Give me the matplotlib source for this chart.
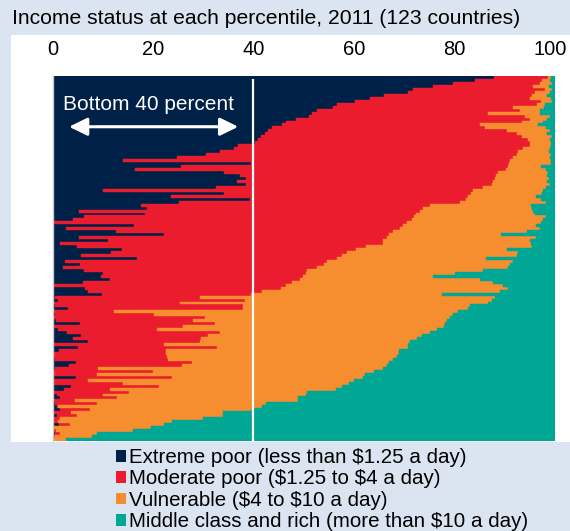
import numpy as np
import matplotlib
matplotlib.use("Agg")
import matplotlib.pyplot as plt
from matplotlib.patches import Patch, Rectangle
from matplotlib.transforms import ScaledTranslation

plt.rcParams['font.family'] = ['Liberation Sans', 'DejaVu Sans']

# percentile where each income class ends, one row per country (123 countries),
# rows ordered as in the chart (top to bottom)
extreme_upto = [
    87.8, 84.1, 79.7, 75.6, 71.8, 70.8, 66.0, 63.1, 60.2, 56.5,
    55.8, 52.5, 51.5, 50.9, 48.5, 46.5, 45.6, 43.6, 42.9, 42.2,
    41.5, 40.9, 40.2, 36.9, 36.0, 33.3, 30.4, 24.8, 14.0, 39.5,
    25.5, 16.3, 34.1, 37.3, 38.5, 36.6, 38.4, 32.4, 10.0, 34.1,
    23.6, 39.3, 25.0, 17.5, 18.7, 5.2, 18.3, 6.2, 4.0, 0.1,
    16.2, 2.6, 12.5, 22.1, 5.2, 10.9, 1.4, 4.7, 13.8, 11.5,
    5.6, 16.7, 2.4, 5.4, 1.9, 6.2, 10.0, 9.6, 11.4, 6.0,
    0.0, 6.4, 6.9, 9.7, 0.4, 1.0, 0.2, 0.4, 2.9, 0.2,
    0.3, 0.0, 0.5, 5.4, 0.0, 1.0, 2.7, 5.6, 4.0, 7.0,
    0.2, 5.0, 1.2, 0.2, 0.2, 0.3, 4.5, 3.1, 0.3, 0.2,
    0.1, 4.6, 0.2, 0.1, 3.6, 2.1, 0.0, 0.7, 1.4, 0.0,
    0.4, 0.7, 1.3, 0.0, 0.8, 0.0, 0.0, 1.1, 0.0, 0.2,
    0.4, 0.0, 0.0]

moderate_upto = [
    98.7, 97.5, 97.0, 95.7, 98.0, 96.0, 95.4, 95.0, 97.3, 96.5,
    91.7, 93.0, 86.7, 94.0, 95.0, 93.5, 85.1, 86.1, 90.4, 92.4,
    93.4, 94.7, 95.0, 95.0, 93.7, 92.7, 92.4, 91.7, 91.0, 90.8,
    90.7, 90.2, 88.7, 88.2, 88.0, 87.7, 87.4, 85.7, 83.7, 83.2,
    82.7, 82.3, 81.0, 75.0, 73.8, 73.1, 72.4, 72.0, 71.6, 70.5,
    69.7, 69.1, 67.7, 67.0, 66.5, 65.8, 65.7, 62.4, 60.4, 58.5,
    57.5, 56.5, 54.5, 53.9, 52.5, 50.5, 50.4, 49.9, 49.2, 47.7,
    46.5, 45.4, 41.6, 39.5, 29.2, 38.2, 25.2, 37.8, 37.8, 12.2,
    20.2, 30.3, 27.8, 32.3, 25.8, 20.8, 33.3, 30.9, 29.5, 29.2,
    22.1, 32.6, 22.5, 22.6, 22.8, 23.0, 27.6, 25.6, 9.0, 19.9,
    8.7, 23.8, 7.0, 13.9, 21.2, 11.4, 15.1, 10.0, 12.8, 4.4,
    8.7, 0.9, 7.4, 3.6, 4.7, 1.4, 1.0, 3.4, 0.2, 0.5,
    1.4, 0.4, 0.2]

vulnerable_upto = [
    99.3, 99.0, 99.5, 98.8, 99.5, 99.0, 98.5, 99.3, 99.5, 98.0,
    97.8, 97.0, 97.0, 99.0, 98.5, 97.7, 96.6, 98.3, 99.0, 98.5,
    99.5, 99.0, 99.3, 99.3, 99.0, 98.8, 99.3, 99.0, 99.3, 99.2,
    97.3, 98.3, 98.6, 98.5, 98.8, 98.5, 99.0, 98.3, 97.7, 97.5,
    96.3, 97.3, 98.3, 95.3, 95.5, 95.7, 96.0, 98.3, 97.7, 97.3,
    96.3, 97.0, 94.4, 89.2, 96.3, 95.0, 95.3, 95.5, 90.4, 92.7,
    92.4, 86.3, 91.7, 91.0, 90.7, 85.7, 80.1, 75.6, 85.1, 87.7,
    89.7, 90.7, 89.0, 77.4, 88.0, 87.4, 86.7, 83.1, 82.7, 80.7,
    79.7, 79.0, 78.5, 78.1, 77.8, 76.5, 75.0, 73.5, 72.6, 71.1,
    70.8, 70.8, 69.0, 68.9, 68.6, 67.8, 67.0, 66.5, 65.8, 63.9,
    62.1, 61.8, 60.0, 59.0, 57.5, 56.4, 50.5, 50.3, 48.9, 48.8,
    42.4, 41.6, 39.6, 33.8, 33.8, 29.8, 23.8, 22.2, 19.5, 16.0,
    8.7, 7.7, 2.6]

labels = [r"Extreme poor (less than \$1.25 a day)",
          r"Moderate poor (\$1.25 to \$4 a day)",
          r"Vulnerable (\$4 to \$10 a day)",
          r"Middle class and rich (more than \$10 a day)"]
colors = ["#002147", "#ea1c2e", "#f68d2e", "#00a795"]
xticks = [0, 20, 40, 60, 80, 100]

bg = "#dbe5f1"
fig = plt.figure(figsize=(5.7, 5.31), dpi=100, facecolor=bg)
W, H = 570, 531

# white panel behind the chart
fig.patches.append(Rectangle((11 / W, 1 - 442 / H), (570 - 11) / W, (442 - 35) / H,
                             transform=fig.transFigure, facecolor="white",
                             edgecolor="none", zorder=-5))

ax = fig.add_axes([53 / W, 1 - 441 / H, (555 - 53) / W, (441 - 76) / H])
ax.set_facecolor("white")

rows = np.arange(len(extreme_upto))
edges = np.column_stack([np.zeros(len(rows)), extreme_upto, moderate_upto,
                         vulnerable_upto, np.full(len(rows), 100.0)])
for k in range(4):
    left = edges[:, k]
    width = edges[:, k + 1] - edges[:, k]
    ax.barh(rows, width, left=left, height=1.0, color=colors[k],
            edgecolor=colors[k], linewidth=0.3)

ax.set_xlim(0, 100)
ax.set_ylim(len(rows) - 0.5, -0.5)

# 40th percentile line and annotation
ax.vlines(39.8, 0.5, len(rows) - 0.5, color="white", lw=1.6)
ax.annotate("", xy=(3.2, 16.6), xytext=(36.9, 16.6),
            arrowprops=dict(arrowstyle="<|-|>,head_length=0.55,head_width=0.27",
                            color="white", lw=2.2, mutation_scale=20,
                            shrinkA=0, shrinkB=0))
ax.text(19.0, 9.0, "Bottom 40 percent", color="white", fontsize=15,
        ha="center", va="center")

ax.xaxis.tick_top()
ax.set_xticks(xticks)
ax.set_xticklabels([str(t) for t in xticks], fontsize=14.5)
ax.tick_params(axis="x", length=0, pad=12)
# keep "100" inside the picture
last = ax.get_xticklabels()[-1]
last.set_transform(last.get_transform() + ScaledTranslation(-5 / 100, 0, fig.dpi_scale_trans))
ax.set_yticks([])
for s in ["top", "right", "bottom"]:
    ax.spines[s].set_visible(False)
ax.spines["left"].set_color("#c8c8c8")
ax.spines["left"].set_linewidth(1)

fig.text(12 / W, 1 - 18 / H, "Income status at each percentile, 2011 (123 countries)",
         fontsize=15.2, va="center", ha="left")

handles = [Patch(facecolor=c, edgecolor="none") for c in colors]
fig.legend(handles, labels, loc="upper left", bbox_to_anchor=(116 / W, 1 - 448 / H),
           frameon=False, fontsize=14.8, handlelength=0.5, handleheight=0.5,
           handletextpad=0.15, labelspacing=0.12, borderpad=0, borderaxespad=0)

fig.savefig("out.png", dpi=100, facecolor=bg)
